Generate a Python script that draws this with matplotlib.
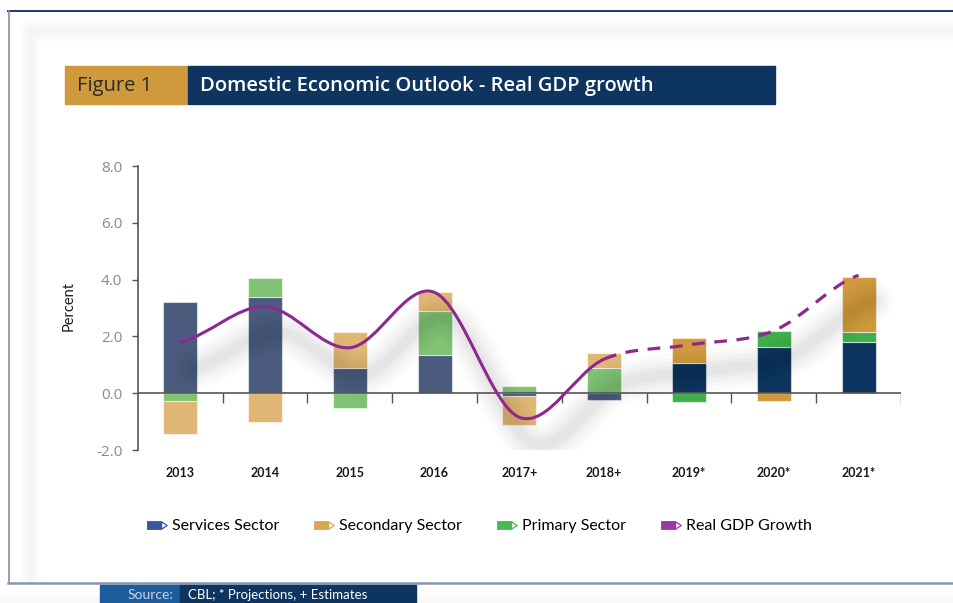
import numpy as np
import matplotlib
matplotlib.use("Agg")
import matplotlib.pyplot as plt
from matplotlib.patches import Rectangle, PathPatch
from matplotlib.path import Path
from matplotlib.lines import Line2D
from matplotlib.legend_handler import HandlerTuple
from matplotlib.transforms import offset_copy

# ---------------- data ----------------
years = ["2013", "2014", "2015", "2016", "2017+", "2018+", "2019*", "2020*", "2021*"]
services = [3.22, 3.38, 0.87, 1.35, -0.10, -0.25, 1.08, 1.61, 1.80]
secondary = [-1.15, -1.00, 1.30, 0.66, -1.02, 0.54, 0.88, -0.26, 1.95]
primary = [-0.27, 0.68, -0.51, 1.55, 0.26, 0.87, -0.32, 0.59, 0.35]
gdp_growth = [1.80, 3.05, 1.60, 3.55, -0.85, 1.20, 1.70, 2.20, 4.15]
n_actual = 6          # 2013 .. 2018+ are actual/estimates, the rest projections
y_ticks = [-2.0, 0.0, 2.0, 4.0, 6.0, 8.0]

# ---------------- styling ----------------
NAVY = "#0d355f"
GOLD = "#d09a3c"
PURPLE = "#8e2790"
col_hist = {"services": "#4b5b7e", "secondary": "#dfb674", "primary": "#7fc274"}
col_proj = {"services": "#0e355f", "secondary": "#d09a3c", "primary": "#40ae4b"}
NARROW = ["Lato", "DejaVu Sans"]
WIDE = ["Open Sans", "Noto Sans", "DejaVu Sans"]

W, H = 954, 603
fig = plt.figure(figsize=(W / 100, H / 100), dpi=100)
fig.patch.set_facecolor("white")

# ---------------- page furniture (pixel coordinates) ----------------
bg = fig.add_axes([0, 0, 1, 1], zorder=-1)
bg.set_xlim(0, W)
bg.set_ylim(H, 0)
bg.axis("off")

# soft panel shadow along top and left edges
yy, xx = np.mgrid[0:H, 0:W].astype(float)
ex, ey = 29.0, 31.0
d_top = np.where(xx >= ex, np.abs(yy - ey), np.hypot(xx - ex, yy - ey))
d_left = np.where(yy >= ey, np.abs(xx - ex), np.hypot(xx - ex, yy - ey))
d = np.minimum(d_top, d_left)
alpha = 0.045 * np.exp(-(d / 7.5) ** 2)
alpha[yy < 14] = 0
alpha[xx < 11] = 0
alpha[yy > 581] = 0
d_bot = np.abs(yy - 600)
alpha += np.where(yy > 585, 0.035 * np.exp(-(d_bot / 6) ** 2), 0)
rgba = np.zeros((H, W, 4))
rgba[..., 3] = alpha
bg.imshow(rgba, extent=(0, W, H, 0), interpolation="bilinear", zorder=0)

# frame
bg.plot([8, W], [11, 11], color="#1d3c66", lw=1.4, zorder=2)
bg.plot([9, 9], [11, 583], color="#7f90a8", lw=1.2, zorder=2)
bg.plot([8, W], [583.5, 583.5], color="#8797ad", lw=1.8, zorder=2)

# title band
bg.add_patch(Rectangle((65, 66), 123, 38, color=GOLD, zorder=2))
bg.add_patch(Rectangle((188, 66), 587, 38, color=NAVY, zorder=2))
bg.text(77, 86, "Figure 1", ha="left", va="center", fontsize=14.5,
        color="#2b2b2b", family=WIDE, zorder=3)
bg.text(200, 86, "Domestic Economic Outlook - Real GDP growth", ha="left",
        va="center", fontsize=14.5, fontweight="semibold", color="white",
        family=WIDE, zorder=3)

# source band
bg.add_patch(Rectangle((100, 585.5), 80, 18, color="#1c5c9c", zorder=2))
bg.add_patch(Rectangle((180, 585.5), 236, 18, color=NAVY, zorder=2))
bg.text(173, 595, "Source:", ha="right", va="center", fontsize=10,
        color="#c9d4e3", family=NARROW, zorder=3)
bg.text(188, 595, "CBL; * Projections, + Estimates", ha="left", va="center",
        fontsize=9.5, color="white", family=NARROW, zorder=3)

# ---------------- chart ----------------
ax = fig.add_axes([137.7 / W, 1 - 450 / H, (901 - 137.7) / W, (450 - 166) / H])
ax.set_facecolor("none")
x = np.arange(len(years))
ax.set_xlim(-0.5, len(years) - 0.5)
ax.set_ylim(-2, 8)

# stacked bars: positives and negatives stacked separately
series = [("services", services), ("primary", primary), ("secondary", secondary)]
pos_base = np.zeros(len(years))
neg_base = np.zeros(len(years))
for name, vals in series:
    vals = np.asarray(vals)
    colors = [col_hist[name] if i < n_actual else col_proj[name] for i in range(len(years))]
    bottoms = np.where(vals >= 0, pos_base, neg_base)
    ax.bar(x, vals, width=0.4, bottom=bottoms, color=colors,
           edgecolor=(1, 1, 1, 0.55), linewidth=0.8, zorder=2)
    pos_base += np.where(vals >= 0, vals, 0)
    neg_base += np.where(vals < 0, vals, 0)


def smooth_path(xv, yv):
    """Cubic Bezier path through the points (Catmull-Rom tangents)."""
    yv = np.asarray(yv, float)
    ext = np.concatenate([[yv[0]], yv, [yv[-1]]])
    verts = [(xv[0], yv[0])]
    codes = [Path.MOVETO]
    for i in range(len(yv) - 1):
        m1 = (ext[i + 2] - ext[i]) / 2
        m2 = (ext[i + 3] - ext[i + 1]) / 2
        dx = xv[i + 1] - xv[i]
        verts += [(xv[i] + dx / 3, yv[i] + m1 / 3),
                  (xv[i + 1] - dx / 3, yv[i + 1] - m2 / 3),
                  (xv[i + 1], yv[i + 1])]
        codes += [Path.CURVE4] * 3
    return Path(verts, codes)


def segment_path(i0, i1):
    """Smooth path over points i0..i1, keeping tangents from neighbours."""
    v = smooth_path(x, gdp_growth).vertices
    verts = v[3 * i0: 3 * i1 + 1]
    codes = [Path.MOVETO] + [Path.CURVE4] * (len(verts) - 1)
    return Path(verts, codes)


# blurred drop shadow beneath the growth line
shadow_tr = offset_copy(ax.transData, fig=fig, x=14, y=-26, units="dots")
full_path = smooth_path(x, gdp_growth)
for lw, a in [(30, 0.016), (24, 0.018), (18, 0.02), (12, 0.022), (7, 0.022)]:
    ax.add_patch(PathPatch(full_path, fill=False, edgecolor="black", alpha=a,
                           lw=lw, capstyle="round", joinstyle="round",
                           transform=shadow_tr, zorder=2.5))

# zero line and category separators
ax.axhline(0, color="#555555", lw=1.2, zorder=3)
for b in np.arange(0.5, len(years), 1.0):
    ax.plot([b, b], [0, -0.33], color="#555555", lw=1.0, zorder=3,
            solid_capstyle="butt")

# real GDP growth: solid for actual/estimates, dashed for projections
ax.add_patch(PathPatch(segment_path(0, n_actual - 1), fill=False,
                       edgecolor=PURPLE, lw=2.2, capstyle="butt", zorder=4))
ax.add_patch(PathPatch(segment_path(n_actual - 1, len(years) - 1), fill=False,
                       edgecolor=PURPLE, lw=2.3, linestyle=(0, (4, 3)),
                       capstyle="butt", zorder=4))

# axes styling
for s in ["top", "right", "bottom"]:
    ax.spines[s].set_visible(False)
ax.spines["left"].set_color("#555555")
ax.spines["left"].set_linewidth(1.2)
ax.set_yticks(y_ticks)
ax.set_yticklabels([f"{v:.1f}" for v in y_ticks])
ax.tick_params(axis="y", direction="out", length=4, width=1.0, color="#555555",
               labelcolor="#8a8a8a", labelsize=11, pad=7)
for lab in ax.get_yticklabels():
    lab.set_family(WIDE)
ax.set_xticks(x)
ax.set_xticklabels(years)
ax.tick_params(axis="x", length=0, pad=12, labelsize=9, labelcolor="#1a1a1a")
for lab in ax.get_xticklabels():
    lab.set_family(NARROW)
    lab.set_fontweight("bold")

fig.text(69 / W, 1 - 306 / H, "Percent", rotation=90, ha="center", va="center",
         fontsize=10.5, color="#1a1a1a", family=NARROW)

# ---------------- legend with pencil-shaped keys ----------------
body = Path([(-1, -0.38), (0.42, -0.38), (0.42, 0.38), (-1, 0.38), (-1, -0.38)],
            [Path.MOVETO, Path.LINETO, Path.LINETO, Path.LINETO, Path.CLOSEPOLY])
tip = Path([(0.42, -0.38), (1.0, 0.0), (0.42, 0.38), (0.42, -0.38)],
           [Path.MOVETO, Path.LINETO, Path.LINETO, Path.CLOSEPOLY])


def pencil(color):
    b = Line2D([], [], ls="none", marker=body, markersize=14,
               markerfacecolor=color, markeredgecolor=color, markeredgewidth=0.6)
    t = Line2D([], [], ls="none", marker=tip, markersize=14,
               markerfacecolor="white", markeredgecolor=color, markeredgewidth=0.9)
    return (b, t)


handles = [pencil("#3c559a"), pencil("#d9a650"), pencil("#4cb853"), pencil("#9a3a9e")]
labels = ["Services Sector", "Secondary Sector", "Primary Sector", "Real GDP Growth"]
fig.legend(handles, labels, loc="center", bbox_to_anchor=(0.502, 1 - 526 / H),
           ncol=4, frameon=False, handler_map={tuple: HandlerTuple(ndivide=1)},
           handlelength=1.4, handletextpad=0.25, columnspacing=2.1,
           prop={"family": NARROW, "size": 11.5})

fig.savefig("out.png", dpi=100, facecolor="white")
